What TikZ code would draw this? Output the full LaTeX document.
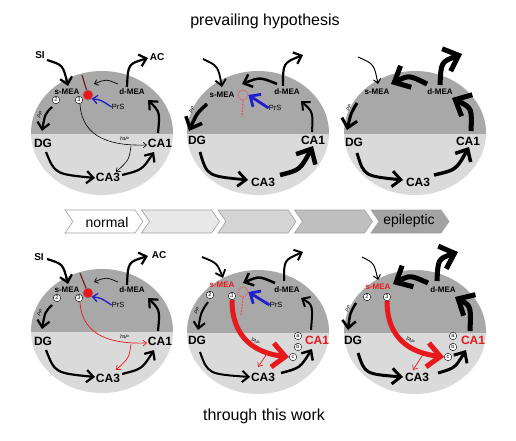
\documentclass[tikz,border=0pt]{standalone}
\usepackage{fontspec}
\setmainfont{Liberation Sans}
\usetikzlibrary{arrows.meta}
\definecolor{dk}{HTML}{A8A8A8}
\definecolor{lt}{HTML}{DADADA}
\definecolor{rd}{HTML}{E8191C}
\definecolor{bl}{HTML}{1F1FCC}
\definecolor{dred}{HTML}{6E1F1F}
\definecolor{chA}{HTML}{FFFFFF}
\definecolor{chB}{HTML}{E8E8E8}
\definecolor{chC}{HTML}{D4D4D4}
\definecolor{chD}{HTML}{BFBFBF}
\definecolor{chE}{HTML}{A3A3A3}
\newcommand{\panelbg}[2]{%
 \begin{scope}
 \clip (#1,#2) ellipse [x radius=71pt, y radius=62pt];
 \fill[dk] (#1-75,#2-65) rectangle (#1+75,#2+1);
 \fill[lt] (#1-75,#2+1) rectangle (#1+75,#2+65);
 \end{scope}}
\newcommand{\chevron}[2]{%
 \draw[fill=#2, draw=gray!75, line width=0.6pt] (#1,210) -- (#1+70,210) -- (#1+78,221.5) -- (#1+70,233) -- (#1,233) -- (#1+8,221.5) -- cycle;}
\begin{document}
\begin{tikzpicture}[x=1pt,y=-1pt,
 lab/.style={font=\fontsize{8}{8}\selectfont\bfseries, inner sep=0pt},
 big/.style={font=\fontsize{12}{12}\selectfont\bfseries, inner sep=0pt},
 ext/.style={font=\fontsize{10}{10}\selectfont\bfseries, inner sep=0pt},
 prs/.style={font=\fontsize{7.5}{7.5}\selectfont, inner sep=0pt},
 tiny/.style={font=\fontsize{5}{5}\selectfont\itshape, inner sep=0pt},
 ttl/.style={font=\fontsize{16}{16}\selectfont, inner sep=0pt, anchor=base},
 ban/.style={font=\fontsize{14}{14}\selectfont, inner sep=0pt},
 num/.style={circle, draw=black, fill=white, line width=0.4pt, inner sep=0pt, minimum size=7.5pt, font=\fontsize{5.5}{5.5}\selectfont},
 rdot/.style={circle, fill=rd, draw=dred!60, line width=0.5pt, inner sep=0pt, minimum size=10pt},
 dcirc/.style={circle, draw=rd!75, dash pattern=on 1.5pt off 1pt, line width=0.8pt, inner sep=0pt, minimum size=10pt},
 ar/.style={line width=#1, -{Straight Barb[length=2pt 2.2, width=3pt 4.2]}},
]
\useasboundingbox (0,0) rectangle (516,441);
\fill[white] (0,0) rectangle (516,441);

\node[ttl] (title1) at (265,26) {prevailing hypothesis};
\node[ttl] (title2) at (264,420) {through this work};

\panelbg{102}{133}
\panelbg{258}{133}
\panelbg{415}{133}
\panelbg{102}{331}
\panelbg{258}{332}
\panelbg{415}{332}

% ---------- banner ----------
\chevron{65}{chA}
\chevron{141.5}{chB}
\chevron{218}{chC}
\chevron{294.5}{chD}
\chevron{371}{chE}
\node[ban] (bnormal) at (107,222) {normal};
\node[ban] (bepi) at (409,221) {epileptic};

% ================= Panel A (top-left) =================
\node[ext] (A-SI) at (40,55) {SI};
\node[ext] (A-AC) at (157,57) {AC};
\node[lab] (A-s) at (67,92) {s-MEA};
\node[lab] (A-d) at (132,92) {d-MEA};
\node[num] (A-2) at (56,100) {2};
\node[num] (A-3) at (79,100) {3};
\node[big] (A-DG) at (43,143) {DG};
\node[big] (A-CA1) at (160,143) {CA1};
\node[big] (A-CA3) at (108,177) {CA3};
\node[prs] (A-PrS) at (118,107) {PrS};
\path (82,75) coordinate (A-ax);
\draw[dred, line width=1.2pt] (A-ax) -- (88,95);
\node[rdot] (A-dot) at (88,95) {};
\path (47,60) coordinate (A-p1) (68,86) coordinate (A-p2)
      (127,87) coordinate (A-p3) (148,58) coordinate (A-p4)
      (118,84) coordinate (A-p5) (94,84) coordinate (A-p6)
      (52,107) coordinate (A-p7) (42,131) coordinate (A-p8)
      (46,152) coordinate (A-p9) (95,178) coordinate (A-p10)
      (122,175) coordinate (A-p11) (154,152) coordinate (A-p12)
      (158,133) coordinate (A-p13) (148,100) coordinate (A-p14)
      (80,104) coordinate (A-p15) (147,145) coordinate (A-p16)
      (131,146) coordinate (A-p17) (116,172) coordinate (A-p18);
\draw[ar=2.2pt] (A-p1) .. controls (63,65) .. (A-p2);
\draw[ar=2.2pt] (A-p3) .. controls (128,64) .. (A-p4);
\draw[ar=0.7pt] (A-p5) .. controls (106,79) .. (A-p6);
\draw[ar=1.3pt, bl] (A-PrS.west) .. controls (101,100) .. (A-dot.south east);
\draw[ar=2.2pt] (A-p7) .. controls (45,114) .. (A-p8);
\draw[ar=2.2pt] (A-p9) .. controls (55,174) .. (A-p10);
\draw[ar=2.2pt] (A-p11) .. controls (142,170) .. (A-p12);
\draw[ar=2.2pt] (A-p13) .. controls (160,112) .. (A-p14);
\draw[ar=0.6pt] (A-p15) .. controls (82,140) and (115,146) .. (A-p16);
\draw[ar=0.6pt] (A-p17) .. controls (129,160) .. (A-p18);
\node[tiny, rotate=65] (A-PP) at (40,115) {PP};
\node[tiny, rotate=-8] (A-TAP) at (124,139) {TAP};

% ================= Panel B (top-middle) =================
\node[lab] (B-s) at (222,95) {s-MEA};
\node[lab] (B-d) at (287,92) {d-MEA};
\node[big] (B-DG) at (197,140) {DG};
\node[big] (B-CA1) at (313,140) {CA1};
\node[big] (B-CA3) at (263,182) {CA3};
\node[prs] (B-PrS) at (275,108) {PrS};
\node[dcirc] (B-dc) at (243,95) {};
\path (242,117) coordinate (B-stem);
\draw[rd!75, line width=1.2pt, dash pattern=on 2pt off 1.2pt] (B-dc.south) -- (B-stem);
\path (203,59) coordinate (B-p1) (222,87) coordinate (B-p2)
      (283,86) coordinate (B-p3) (303,55) coordinate (B-p4)
      (277,84) coordinate (B-p5) (242,84) coordinate (B-p6)
      (207,104) coordinate (B-p7) (189,131) coordinate (B-p8)
      (200,152) coordinate (B-p9) (248,180) coordinate (B-p10)
      (280,175) coordinate (B-p11) (313,146) coordinate (B-p12)
      (312,132) coordinate (B-p13) (301,101) coordinate (B-p14);
\draw[ar=1.8pt] (B-p1) .. controls (218,66) .. (B-p2);
\draw[ar=2.2pt] (B-p3) .. controls (283,63) .. (B-p4);
\draw[ar=2.5pt] (B-p5) .. controls (260,77) .. (B-p6);
\draw[ar=2.8pt, bl] (B-PrS.west) -- (B-dc.east);
\draw[ar=3.5pt] (B-p7) .. controls (197,113) .. (B-p8);
\draw[ar=2.8pt] (B-p9) .. controls (207,176) .. (B-p10);
\draw[ar=4.5pt] (B-p11) .. controls (300,170) .. (B-p12);
\draw[ar=2pt] (B-p13) .. controls (313,112) .. (B-p14);
\node[tiny, rotate=65] (B-PP) at (192,110) {PP};

% ================= Panel C (top-right) =================
\node[lab] (C-s) at (377,92) {s-MEA};
\node[lab] (C-d) at (440,92) {d-MEA};
\node[big] (C-DG) at (354,142) {DG};
\node[big] (C-CA1) at (468,141) {CA1};
\node[big] (C-CA3) at (418,182) {CA3};
\path (358,57) coordinate (C-p1) (378,84) coordinate (C-p2)
      (427,84) coordinate (C-p3) (391,84) coordinate (C-p4)
      (440,85) coordinate (C-p5) (462,54) coordinate (C-p6)
      (357,103) coordinate (C-p7) (347,130) coordinate (C-p8)
      (357,153) coordinate (C-p9) (403,180) coordinate (C-p10)
      (434,175) coordinate (C-p11) (469,147) coordinate (C-p12)
      (471,131) coordinate (C-p13) (452,98) coordinate (C-p14);
\draw[ar=1pt] (C-p1) .. controls (374,64) .. (C-p2);
\draw[ar=5pt] (C-p3) .. controls (409,75) .. (C-p4);
\draw[ar=5pt] (C-p5) .. controls (441,62) .. (C-p6);
\draw[ar=3pt] (C-p7) .. controls (351,113) .. (C-p8);
\draw[ar=3pt] (C-p9) .. controls (364,176) .. (C-p10);
\draw[ar=3.5pt] (C-p11) .. controls (456,170) .. (C-p12);
\draw[ar=5pt] (C-p13) .. controls (472,108) .. (C-p14);
\node[tiny, rotate=65] (C-PP) at (349,108) {PP};

% ================= Panel D (bottom-left) =================
\node[ext] (D-SI) at (39,257) {SI};
\node[ext] (D-AC) at (159,255) {AC};
\node[lab] (D-s) at (67,290) {s-MEA};
\node[lab] (D-d) at (132,290) {d-MEA};
\node[num] (D-2) at (57,298) {2};
\node[num] (D-3) at (79,298) {3};
\node[big] (D-DG) at (43,341) {DG};
\node[big] (D-CA1) at (160,341) {CA1};
\node[big] (D-CA3) at (108,378) {CA3};
\node[prs] (D-PrS) at (118,305) {PrS};
\path (80,273) coordinate (D-ax);
\draw[dred, line width=1.2pt] (D-ax) -- (88,293);
\node[rdot] (D-dot) at (88,293) {};
\path (47,259) coordinate (D-p1) (68,284) coordinate (D-p2)
      (127,285) coordinate (D-p3) (148,256) coordinate (D-p4)
      (118,282) coordinate (D-p5) (94,282) coordinate (D-p6)
      (52,305) coordinate (D-p7) (42,329) coordinate (D-p8)
      (46,350) coordinate (D-p9) (95,377) coordinate (D-p10)
      (122,374) coordinate (D-p11) (154,350) coordinate (D-p12)
      (158,331) coordinate (D-p13) (148,298) coordinate (D-p14)
      (80,302) coordinate (D-p15) (147,343) coordinate (D-p16)
      (131,344) coordinate (D-p17) (116,370) coordinate (D-p18);
\draw[ar=2.2pt] (D-p1) .. controls (63,264) .. (D-p2);
\draw[ar=2.2pt] (D-p3) .. controls (128,262) .. (D-p4);
\draw[ar=0.7pt] (D-p5) .. controls (106,277) .. (D-p6);
\draw[ar=1.3pt, bl] (D-PrS.west) .. controls (101,298) .. (D-dot.south east);
\draw[ar=2.2pt] (D-p7) .. controls (45,312) .. (D-p8);
\draw[ar=2.2pt] (D-p9) .. controls (55,373) .. (D-p10);
\draw[ar=2.2pt] (D-p11) .. controls (142,369) .. (D-p12);
\draw[ar=2.2pt] (D-p13) .. controls (160,310) .. (D-p14);
\draw[ar=0.7pt, rd] (D-p15) .. controls (82,338) and (115,344) .. (D-p16);
\draw[ar=0.7pt, rd] (D-p17) .. controls (129,358) .. (D-p18);
\node[tiny, rotate=65] (D-PP) at (40,313) {PP};
\node[tiny, rotate=-8] (D-TAP) at (124,337) {TAP};

% ================= Panel E (bottom-middle) =================
\node[lab, text=rd] (E-s) at (222,285) {s-MEA};
\node[lab] (E-d) at (287,290) {d-MEA};
\node[num] (E-2) at (210,295) {2};
\node[num] (E-3) at (232,296) {3};
\node[big] (E-DG) at (197,340) {DG};
\node[big, text=rd] (E-CA1) at (317,340) {CA1};
\node[big] (E-CA3) at (263,377) {CA3};
\node[prs] (E-PrS) at (276,305) {PrS};
\node[num] (E-a) at (298,336) {a};
\node[num] (E-b) at (298,347) {b};
\node[num] (E-c) at (293,357) {c};
\node[dcirc] (E-dc) at (243,292) {};
\path (241,315) coordinate (E-stem);
\draw[rd!75, line width=1.2pt, dash pattern=on 2pt off 1.2pt] (E-dc.south) -- (E-stem);
\path (202,257) coordinate (E-p1) (223,278) coordinate (E-p2)
      (284,281) coordinate (E-p3) (303,252) coordinate (E-p4)
      (275,283) coordinate (E-p5) (243,283) coordinate (E-p6)
      (208,302) coordinate (E-p7) (198,330) coordinate (E-p8)
      (200,352) coordinate (E-p9) (250,377) coordinate (E-p10)
      (281,373) coordinate (E-p11) (312,349) coordinate (E-p12)
      (311,330) coordinate (E-p13) (301,298) coordinate (E-p14)
      (268,352) coordinate (E-p15) (258,367) coordinate (E-p16);
\draw[ar=1.8pt] (E-p1) .. controls (217,263) .. (E-p2);
\draw[ar=2pt] (E-p3) .. controls (284,260) .. (E-p4);
\draw[ar=2.5pt] (E-p5) .. controls (259,276) .. (E-p6);
\draw[ar=2.8pt, bl] (E-PrS.west) -- (E-dc.east);
\draw[ar=2pt] (E-p7) .. controls (201,312) .. (E-p8);
\draw[ar=2pt] (E-p9) .. controls (208,374) .. (E-p10);
\draw[ar=2.5pt] (E-p11) .. controls (300,368) .. (E-p12);
\draw[ar=2pt] (E-p13) .. controls (313,305) .. (E-p14);
\draw[ar=0.7pt, rd] (E-p15) -- (E-p16);
\draw[ar=5pt, rd] (E-3.south) .. controls (232,338) and (255,353) .. (E-c.west);
\node[tiny, rotate=65] (E-PP) at (197,311) {PP};
\node[tiny, rotate=-30] (E-TAP) at (255,341) {TAP};

% ================= Panel F (bottom-right) =================
\node[lab, text=rd] (F-s) at (378,287) {s-MEA};
\node[lab] (F-d) at (443,290) {d-MEA};
\node[num] (F-2) at (367,297) {2};
\node[num] (F-3) at (387,297) {3};
\node[big] (F-DG) at (353,340) {DG};
\node[big, text=rd] (F-CA1) at (473,340) {CA1};
\node[big] (F-CA3) at (417,377) {CA3};
\node[num] (F-a) at (453,336) {a};
\node[num] (F-b) at (453,347) {b};
\node[num] (F-c) at (448,357) {c};
\path (362,257) coordinate (F-p1) (378,280) coordinate (F-p2)
      (428,283) coordinate (F-p3) (393,284) coordinate (F-p4)
      (437,281) coordinate (F-p5) (458,252) coordinate (F-p6)
      (356,303) coordinate (F-p7) (348,330) coordinate (F-p8)
      (358,353) coordinate (F-p9) (403,377) coordinate (F-p10)
      (438,373) coordinate (F-p11) (466,350) coordinate (F-p12)
      (470,331) coordinate (F-p13) (455,297) coordinate (F-p14)
      (424,353) coordinate (F-p15) (413,370) coordinate (F-p16);
\draw[ar=1pt] (F-p1) .. controls (374,263) .. (F-p2);
\draw[ar=5pt] (F-p3) .. controls (410,275) .. (F-p4);
\draw[ar=5pt] (F-p5) .. controls (438,259) .. (F-p6);
\draw[ar=2.5pt] (F-p7) .. controls (350,313) .. (F-p8);
\draw[ar=3pt] (F-p9) .. controls (365,374) .. (F-p10);
\draw[ar=3pt] (F-p11) .. controls (455,368) .. (F-p12);
\draw[ar=5pt] (F-p13) .. controls (471,306) .. (F-p14);
\draw[ar=0.7pt, rd] (F-p15) -- (F-p16);
\draw[ar=5pt, rd] (F-3.south) .. controls (387,340) and (412,353) .. (F-c.west);
\node[tiny, rotate=65] (F-PP) at (348,309) {PP};
\node[tiny, rotate=-30] (F-TAP) at (410,340) {TAP};
\end{tikzpicture}
\end{document}
